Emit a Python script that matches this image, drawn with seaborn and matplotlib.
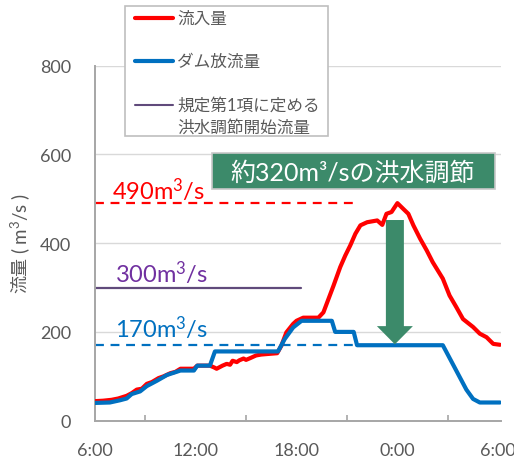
import matplotlib
matplotlib.use("Agg")
import matplotlib.pyplot as plt
from matplotlib.lines import Line2D
from matplotlib.patches import Rectangle
from matplotlib.ticker import MultipleLocator, FixedLocator
import seaborn as sns
import pandas as pd

# Hours elapsed since 6:00 on the first day
inflow_hours = [0, 0.5, 1.0, 1.4, 1.9, 2.2, 2.5, 2.8, 3.1, 3.4, 3.8, 4.1, 4.5, 4.8,
                5.1, 5.9, 6.1, 6.85, 7.1, 7.25, 7.6, 7.85, 8.05, 8.2, 8.45, 8.6,
                8.85, 9.0, 9.25, 9.6, 9.9, 10.2, 10.85, 11.1, 11.4, 11.8, 12.0,
                12.4, 13.3, 13.6, 13.9, 14.2, 14.6, 14.9, 15.2, 15.5, 15.8, 16.2,
                16.8, 17.1, 17.35, 17.65, 18.0, 18.35, 18.65, 18.95, 19.35, 19.75,
                20.1, 20.7, 21.1, 21.5, 21.9, 22.5, 22.9, 23.3, 23.7, 24.1]
inflow = [44, 45, 47, 50, 56, 62, 70, 72, 83, 87, 96, 100, 107, 110,
          117, 117, 124, 124, 120, 117, 124, 128, 126, 135, 132, 136,
          140, 137, 141, 147, 149, 150, 152, 169, 199, 218, 225,
          232, 232, 244, 274, 304, 346, 372, 395, 421, 440, 447,
          451, 441, 466, 470, 490, 477, 466, 440, 410, 383,
          357, 320, 282, 256, 229, 211, 196, 188, 173, 171]

outflow_hours = [0, 0.9, 1.5, 1.9, 2.2, 2.7, 3.1, 3.7, 4.3, 5.1, 5.9, 6.1, 6.85,
                 7.15, 10.9, 11.3, 11.8, 12.3, 14.1, 14.3, 15.4, 15.6, 20.7,
                 22.1, 22.5, 22.9, 24.1]
outflow = [40, 41, 46, 50, 60, 66, 78, 90, 103, 113, 113, 124, 124,
           156, 156, 184, 210, 225, 225, 200, 200, 170, 170,
           70, 49, 41, 41]

peak_inflow = 490
regulated_outflow = 170
control_start_flow = 300
reduction = peak_inflow - regulated_outflow

tick_hours = [0, 6, 12, 18, 24]
tick_labels = ["6:00", "12:00", "18:00", "0:00", "6:00"]

legend_labels = ["流入量", "ダム放流量", "規定第1項に定める", "洪水調節開始流量"]
ylabel_main = "流量"
ylabel_unit = "( m$^3$/s )"
banner_text = f"約{reduction}m³/sの洪水調節"

RED = "#ff0000"
BLUE = "#0070c0"
PURPLE_LINE = "#604a7b"
PURPLE_TEXT = "#7030a0"
GREEN = "#3c8a6a"
GRAY_TEXT = "#595959"

sns.set_theme(style="white")
plt.rcParams["font.family"] = ["Lato", "Noto Sans CJK JP", "DejaVu Sans"]
plt.rcParams["mathtext.fontset"] = "custom"
plt.rcParams["mathtext.rm"] = "Lato"
plt.rcParams["mathtext.it"] = "Lato"
plt.rcParams["mathtext.default"] = "regular"

W, H = 514, 460
fig = plt.figure(figsize=(W / 100, H / 100), dpi=100)
ax = fig.add_axes([94.7 / W, 1 - 421.7 / H, (501 - 94.7) / W, (421.7 - 66.5) / H])


def fx(px):
    return px / W


def fy(py):
    return 1 - py / H


def unit_label(v):
    return f"{v}m$^3$/s"


df_in = pd.DataFrame({"hour": inflow_hours, "flow": inflow})
df_out = pd.DataFrame({"hour": outflow_hours, "flow": outflow})

# Reference levels (drawn first so the flow lines sit on top)
ax.plot([0, 15.35], [peak_inflow] * 2, color=RED, lw=1.6, ls=(0, (4, 3)), zorder=2)
ax.plot([0, 15.4], [regulated_outflow] * 2, color=BLUE, lw=1.6, ls=(0, (4, 3)), zorder=2)
ax.plot([0, 12.27], [control_start_flow] * 2, color=PURPLE_LINE, lw=1.6, zorder=2)

sns.lineplot(data=df_in, x="hour", y="flow", color=RED, lw=3.0, ax=ax, zorder=4)
sns.lineplot(data=df_out, x="hour", y="flow", color=BLUE, lw=3.0, ax=ax, zorder=5)

# Level annotations
lab_fs = 17
ax.text(1.05, peak_inflow + 9, unit_label(peak_inflow), color=RED, fontsize=lab_fs, va="baseline")
ax.text(1.2, control_start_flow + 12, unit_label(control_start_flow), color=PURPLE_TEXT,
        fontsize=lab_fs, va="baseline")
ax.text(1.2, regulated_outflow + 19, unit_label(regulated_outflow), color=BLUE,
        fontsize=lab_fs, va="baseline")

# Downward arrow showing the regulated amount
ax.arrow(17.85, 452, 0, regulated_outflow + 2 - 452, width=1.07, head_width=2.14,
         head_length=41, length_includes_head=True, color=GREEN, zorder=6, lw=0)

ax.set_xlim(0, 24.16)
ax.set_ylim(0, 800)
ax.xaxis.set_major_locator(FixedLocator(tick_hours))
ax.set_xticklabels(tick_labels)
ax.xaxis.set_minor_locator(MultipleLocator(3))
ax.yaxis.set_major_locator(MultipleLocator(200))
ax.set_xlabel("")
ax.set_ylabel("")
ax.grid(axis="y", color="#d9d9d9", lw=1.0)
ax.set_axisbelow(True)
for s in ["top", "right"]:
    ax.spines[s].set_visible(False)
for s in ["left", "bottom"]:
    ax.spines[s].set_color("#a6a6a6")
    ax.spines[s].set_linewidth(1.4)
ax.tick_params(axis="x", which="major", direction="inout", length=11, width=1.2,
               color="#a6a6a6", labelsize=13, labelcolor=GRAY_TEXT, pad=10)
ax.tick_params(axis="x", which="minor", direction="in", length=4, width=1.2,
               color="#a6a6a6", bottom=True)
ax.tick_params(axis="y", length=0, labelsize=13, labelcolor=GRAY_TEXT, pad=17)

# Y-axis title
fig.text(fx(20), fy(275), ylabel_main, rotation=90, ha="center", va="center",
         fontsize=13, color=GRAY_TEXT)
fig.text(fx(20), fy(223), ylabel_unit, rotation=90, ha="center", va="center",
         fontsize=13.5, color=GRAY_TEXT)

# Banner
fig.patches.append(Rectangle((fx(211.7), fy(190)), (495 - 211.7) / W, 36 / H,
                             transform=fig.transFigure, facecolor=GREEN,
                             edgecolor="#c8c8c8", lw=1.2, zorder=7))
fig.text(fx(353), fy(173), banner_text, color="white", fontsize=18,
         ha="center", va="center", zorder=8)

# Legend box
fig.patches.append(Rectangle((fx(125), fy(137)), (328 - 125) / W, 130 / H,
                             transform=fig.transFigure, facecolor="white",
                             edgecolor="#bfbfbf", lw=1.2, zorder=7))
leg_fs = 12
for y, col, lw in [(19, RED, 3.0), (62, BLUE, 3.0), (106, PURPLE_LINE, 1.5)]:
    fig.lines.append(Line2D([fx(135), fx(173)], [fy(y), fy(y)], color=col, lw=lw,
                            transform=fig.transFigure, zorder=8))
fig.text(fx(177), fy(19), legend_labels[0], fontsize=leg_fs, color=GRAY_TEXT, va="center", zorder=8)
fig.text(fx(177), fy(62), legend_labels[1], fontsize=leg_fs, color=GRAY_TEXT, va="center", zorder=8)
fig.text(fx(177), fy(106), legend_labels[2], fontsize=leg_fs, color=GRAY_TEXT, va="center", zorder=8)
fig.text(fx(177), fy(128), legend_labels[3], fontsize=leg_fs, color=GRAY_TEXT, va="center", zorder=8)

fig.savefig("out.png", dpi=100)
